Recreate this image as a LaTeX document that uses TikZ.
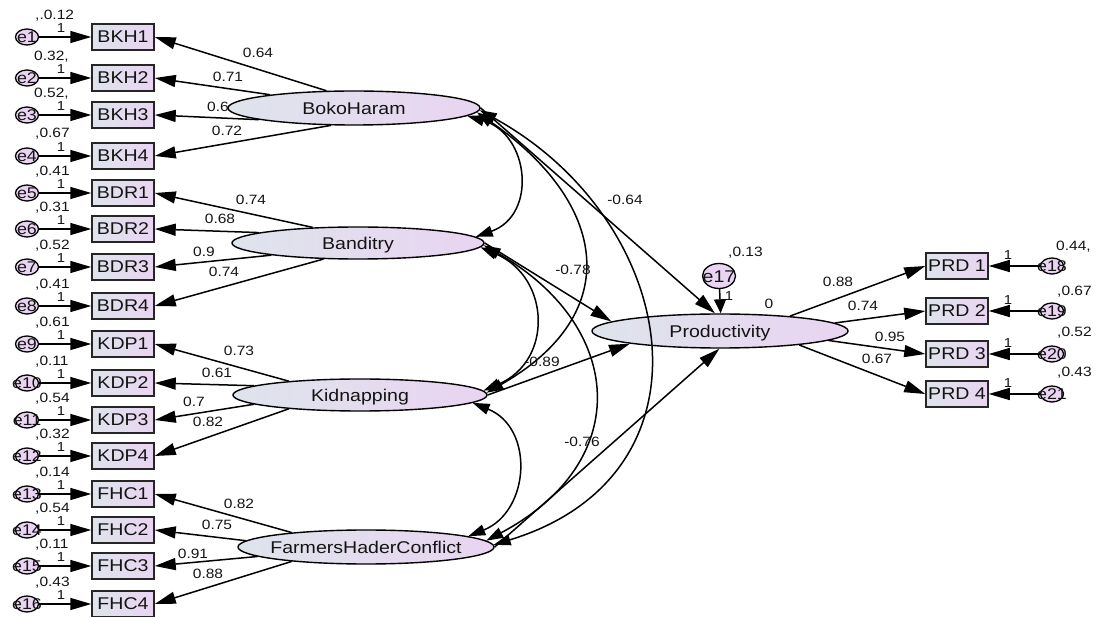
\documentclass[tikz,border=0pt]{standalone}
\usepackage{fontspec}
\setmainfont[FakeStretch=1.15]{Liberation Sans}
\usetikzlibrary{arrows.meta,shapes.geometric}
\definecolor{lgray}{RGB}{222,228,236}
\definecolor{lpurp}{RGB}{233,212,241}
\definecolor{ink}{RGB}{20,20,20}
\newcommand{\zc}[1]{\makebox[0pt]{\raisebox{-.36em}[0pt][0pt]{#1}}}
\tikzset{
  obs/.style={draw=black!85, line width=1.5pt, left color=lgray, right color=lpurp,
    minimum width=62pt, minimum height=26pt, inner sep=0pt, text=ink,
    font=\fontsize{17}{17}\selectfont},
  lat/.style={ellipse, draw=black, line width=1.4pt, left color=lgray, right color=lpurp,
    inner sep=0pt, text=ink, font=\fontsize{17}{17}\selectfont},
  err/.style={ellipse, draw=black, line width=1.3pt, fill=lpurp, minimum width=23pt,
    minimum height=16pt, inner sep=0pt, text=ink, font=\fontsize{15.5}{15.5}\selectfont},
  val/.style={font=\fontsize{13.5}{13.5}\selectfont, inner sep=0pt, text=ink},
  one/.style={font=\fontsize{13}{13}\selectfont, inner sep=0pt, text=ink},
  reg/.style={line width=1.5pt, -{Triangle[length=21pt,width=12pt]}},
  covar/.style={line width=1.5pt, {Triangle[length=17pt,width=11pt]}-{Triangle[length=17pt,width=11pt]}},
}
\begin{document}
\begin{tikzpicture}[x=1pt,y=-1pt]
\useasboundingbox (0,0) rectangle (1101,617);
% loading labels (drawn first; ellipses cover them partly)
\node[val] (l1) at (258,53) {0.64};
\node[val] (l2) at (228,77) {0.71};
\node[val] (l3) at (218,107) {0.6};
\node[val] (l4) at (227,131) {0.72};
\node[val] (l5) at (251,200) {0.74};
\node[val] (l6) at (220,219) {0.68};
\node[val] (l7) at (204,252) {0.9};
\node[val] (l8) at (224,272) {0.74};
\node[val] (l9) at (239,351) {0.73};
\node[val] (l10) at (217,373) {0.61};
\node[val] (l11) at (194,402) {0.7};
\node[val] (l12) at (208,422) {0.82};
\node[val] (l13) at (239,504) {0.82};
\node[val] (l14) at (217,525) {0.75};
\node[val] (l15) at (193,554) {0.91};
\node[val] (l16) at (208,574) {0.88};
% latent variables
\node[lat, minimum width=252pt, minimum height=34pt] (BH) at (354,108) {\zc{BokoHaram}};
\node[lat, minimum width=252pt, minimum height=32pt] (BD) at (358,243) {\zc{Banditry}};
\node[lat, minimum width=254pt, minimum height=32pt] (KD) at (360,395) {\zc{Kidnapping}};
\node[lat, minimum width=256pt, minimum height=34pt] (FH) at (366,547) {\zc{FarmersHaderConflict}};
\node[lat, minimum width=256pt, minimum height=34pt] (PR) at (720,331) {\zc{Productivity}};
% observed indicators (left)
\node[obs] (BKH1) at (123,37) {BKH1};
\node[obs] (BKH2) at (123,78) {BKH2};
\node[obs] (BKH3) at (123,115) {BKH3};
\node[obs] (BKH4) at (123,156) {BKH4};
\node[obs] (BDR1) at (123,193) {BDR1};
\node[obs] (BDR2) at (123,229) {BDR2};
\node[obs] (BDR3) at (123,267) {BDR3};
\node[obs] (BDR4) at (123,306) {BDR4};
\node[obs] (KDP1) at (123,344) {KDP1};
\node[obs] (KDP2) at (123,383) {KDP2};
\node[obs] (KDP3) at (123,420) {KDP3};
\node[obs] (KDP4) at (123,456) {KDP4};
\node[obs] (FHC1) at (123,494) {FHC1};
\node[obs] (FHC2) at (123,530) {FHC2};
\node[obs] (FHC3) at (123,566) {FHC3};
\node[obs] (FHC4) at (123,604) {FHC4};
% error terms (left)
\node[err] (e1) at (27,37) {\zc{e1}};
\node[err] (e2) at (27,78) {\zc{e2}};
\node[err] (e3) at (27,115) {\zc{e3}};
\node[err] (e4) at (27,156) {\zc{e4}};
\node[err] (e5) at (27,193) {\zc{e5}};
\node[err] (e6) at (27,229) {\zc{e6}};
\node[err] (e7) at (27,267) {\zc{e7}};
\node[err] (e8) at (27,306) {\zc{e8}};
\node[err] (e9) at (27,344) {\zc{e9}};
\node[err] (e10) at (27,383) {\zc{e10}};
\node[err] (e11) at (27,420) {\zc{e11}};
\node[err] (e12) at (27,456) {\zc{e12}};
\node[err] (e13) at (27,494) {\zc{e13}};
\node[err] (e14) at (27,530) {\zc{e14}};
\node[err] (e15) at (27,566) {\zc{e15}};
\node[err] (e16) at (27,604) {\zc{e16}};
% variances and fixed weights (left)
\node[val,anchor=west] (v1) at (35,16) {,.0.12};
\node[val,anchor=west] (v2) at (34,57) {0.32,};
\node[val,anchor=west] (v3) at (34,94) {0.52,};
\node[val,anchor=west] (v4) at (35,134) {,0.67};
\node[val,anchor=west] (v5) at (35,172) {,0.41};
\node[val,anchor=west] (v6) at (35,208) {,0.31};
\node[val,anchor=west] (v7) at (35,246) {,0.52};
\node[val,anchor=west] (v8) at (35,285) {,0.41};
\node[val,anchor=west] (v9) at (35,323) {,0.61};
\node[val,anchor=west] (v10) at (35,362) {,0.11};
\node[val,anchor=west] (v11) at (35,399) {,0.54};
\node[val,anchor=west] (v12) at (35,435) {,0.32};
\node[val,anchor=west] (v13) at (35,473) {,0.14};
\node[val,anchor=west] (v14) at (35,509) {,0.54};
\node[val,anchor=west] (v15) at (35,545) {,0.11};
\node[val,anchor=west] (v16) at (35,583) {,0.43};
\node[one] (o1) at (61,28) {1};
\node[one] (o2) at (61,69) {1};
\node[one] (o3) at (61,106) {1};
\node[one] (o4) at (61,147) {1};
\node[one] (o5) at (61,184) {1};
\node[one] (o6) at (61,220) {1};
\node[one] (o7) at (61,258) {1};
\node[one] (o8) at (61,297) {1};
\node[one] (o9) at (61,335) {1};
\node[one] (o10) at (61,374) {1};
\node[one] (o11) at (61,411) {1};
\node[one] (o12) at (61,447) {1};
\node[one] (o13) at (61,485) {1};
\node[one] (o14) at (61,521) {1};
\node[one] (o15) at (61,557) {1};
\node[one] (o16) at (61,595) {1};
\foreach \e/\b in {e1/BKH1,e2/BKH2,e3/BKH3,e4/BKH4,e5/BDR1,e6/BDR2,e7/BDR3,e8/BDR4,
  e9/KDP1,e10/KDP2,e11/KDP3,e12/KDP4,e13/FHC1,e14/FHC2,e15/FHC3,e16/FHC4}
  \draw[reg] (\e) -- (\b);
% loadings
\draw[reg] (BH.148.4) -- (BKH1.east);
\draw[reg] (BH.171.1) -- (BKH2.east);
\draw[reg] (BH.187.4) -- (BKH3.east);
\draw[reg] (BH.217.2) -- (BKH4.east);
\draw[reg] (BD.161.6) -- (BDR1.east);
\draw[reg] (BD.174.9) -- (BDR2.east);
\draw[reg] (BD.188.2) -- (BDR3.east);
\draw[reg] (BD.205) -- (BDR4.east);
\draw[reg] (KD.169.2) -- (KDP1.east);
\draw[reg] (KD.175.8) -- (KDP2.east);
\draw[reg] (KD.185.2) -- (KDP3.east);
\draw[reg] (KD.191.9) -- (KDP4.east);
\draw[reg] (FH.169.8) -- (FHC1.east);
\draw[reg] (FH.177) -- (FHC2.east);
\draw[reg] (FH.185.6) -- (FHC3.east);
\draw[reg] (FH.191.2) -- (FHC4.east);
% covariances
\draw[covar] (BH.-4.5) .. controls +(62,18) and +(62,-22) .. (BD.3);
\draw[covar] (BD.-2.3) .. controls +(70,30) and +(70,-30) .. (KD.2);
\draw[covar] (KD.-4) .. controls +(62,25) and +(62,-25) .. (FH.6);
\draw[covar] (BH.-2) .. controls +(130,90) and +(140,-80) .. (KD.1);
\draw[covar] (BD.-1) .. controls +(140,80) and +(150,-80) .. (FH.3);
\draw[covar] (BH.-1) .. controls +(200,110) and +(230,-70) .. (FH.1);
\node[val] (c1) at (625,200) {-0.64};
\node[val] (c2) at (573,270) {-0.78};
\node[val] (c3) at (542,362) {-0.89};
\node[val] (c4) at (582,442) {-0.76};
% structural paths
\draw[reg] (BH.east) -- (PR.106);
\draw[reg] (BD.east) -- (PR.175);
\draw[reg] (KD.east) -- (PR.188.8);
\draw[reg] (FH.east) -- (PR.268);
% disturbance
\node[err, minimum width=33pt, minimum height=25pt, font=\fontsize{17}{17}\selectfont] (e17) at (719,276) {\zc{e17}};
\draw[line width=1.5pt, -{Triangle[length=14pt,width=12pt]}] (e17) -- (PR.88);
\node[val,anchor=west] (v17) at (728,253) {,0.13};
\node[one] (o17) at (729,296) {1};
\node[val] (z0) at (769,304) {0};
% right indicators
\node[obs] (PRD1) at (957,266) {PRD 1};
\node[obs] (PRD2) at (957,311) {PRD 2};
\node[obs] (PRD3) at (957,354) {PRD 3};
\node[obs] (PRD4) at (957,394) {PRD 4};
\node[err] (e18) at (1052,266) {\zc{e18}};
\node[err] (e19) at (1052,311) {\zc{e19}};
\node[err] (e20) at (1052,354) {\zc{e20}};
\node[err] (e21) at (1052,394) {\zc{e21}};
\draw[reg] (e18) -- (PRD1);
\draw[reg] (e19) -- (PRD2);
\draw[reg] (e20) -- (PRD3);
\draw[reg] (e21) -- (PRD4);
\draw[reg] (PR.12.2) -- (PRD1.west);
\draw[reg] (PR.4.2) -- (PRD2.west);
\draw[reg] (PR.-5.6) -- (PRD3.west);
\draw[reg] (PR.-10.9) -- (PRD4.west);
\node[val] (p1) at (838,282) {0.88};
\node[val] (p2) at (863,306) {0.74};
\node[val] (p3) at (890,337) {0.95};
\node[val] (p4) at (877,359) {0.67};
\node[one] (o18) at (1008,255) {1};
\node[one] (o19) at (1008,300) {1};
\node[one] (o20) at (1008,343) {1};
\node[one] (o21) at (1008,383) {1};
\node[val,anchor=west] (v18) at (1056,247) {0.44,};
\node[val,anchor=west] (v19) at (1057,292) {,0.67};
\node[val,anchor=west] (v20) at (1057,333) {,0.52};
\node[val,anchor=west] (v21) at (1057,373) {,0.43};
\end{tikzpicture}
\end{document}
